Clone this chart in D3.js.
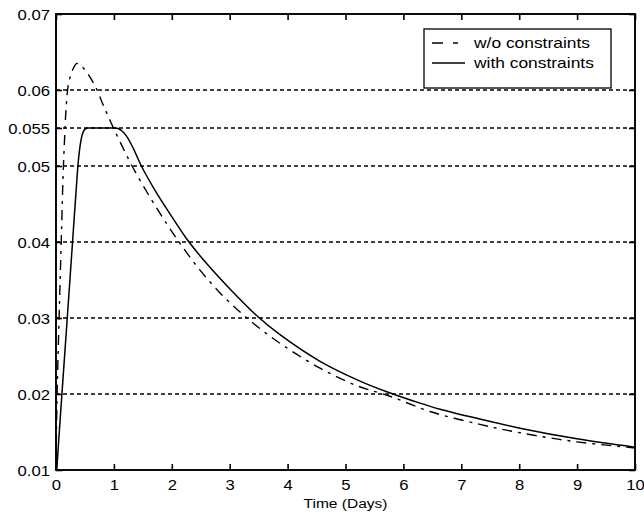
<!DOCTYPE html>
<html>
<head>
<meta charset="utf-8">
<script src="https://cdn.jsdelivr.net/npm/d3@7"></script>
<style>
  html, body { margin: 0; padding: 0; background: #fff; }
  svg { display: block; font-family: "Liberation Sans", Arial, sans-serif; }
</style>
</head>
<body>
<svg id="chart" width="644" height="522"></svg>
<script>
// Concentration over time, with and without constraints
const timeNoConstraint = [0, 0.017, 0.043, 0.069, 0.095, 0.121, 0.147, 0.173, 0.212, 0.254, 0.302, 0.358, 0.415, 0.472, 0.535, 0.596, 0.648, 0.703, 0.817, 0.945, 1.105, 1.307, 1.623, 1.912, 2.171, 2.487, 2.832, 3.178, 3.523, 3.921, 4.560, 5.193, 5.769, 6.459, 7.323, 8.014, 8.998, 10];
const valueNoConstraint = [0.0100, 0.0192, 0.0271, 0.0343, 0.0413, 0.0484, 0.0534, 0.0574, 0.0607, 0.0619, 0.0629, 0.0635, 0.0633, 0.0629, 0.0623, 0.0616, 0.0609, 0.0601, 0.0580, 0.0558, 0.0532, 0.0501, 0.0459, 0.0424, 0.0395, 0.0363, 0.0333, 0.0308, 0.0286, 0.0264, 0.0234, 0.0211, 0.0197, 0.0177, 0.0160, 0.0149, 0.0137, 0.0129];

const timeConstraint = [0.012, 0.094, 0.190, 0.285, 0.371, 0.397, 0.423, 0.449, 0.484, 0.527, 0.553, 0.80, 1.019, 1.071, 1.140, 1.221, 1.330, 1.468, 1.710, 1.969, 2.268, 2.487, 2.775, 3.109, 3.454, 3.869, 4.560, 5.250, 5.712, 6.287, 6.632, 7.323, 8.014, 8.998, 10];
const valueConstraint = [0.0100, 0.0191, 0.0295, 0.0399, 0.0493, 0.0515, 0.0530, 0.0540, 0.0547, 0.05497, 0.0550, 0.0550, 0.0550, 0.05493, 0.0546, 0.0539, 0.0524, 0.0501, 0.0468, 0.0437, 0.0403, 0.0382, 0.0357, 0.0330, 0.0304, 0.0278, 0.0243, 0.0217, 0.0203, 0.0188, 0.0180, 0.0167, 0.0155, 0.0141, 0.0130];

const xTicks = [0, 1, 2, 3, 4, 5, 6, 7, 8, 9, 10];
const yTicks = [0.01, 0.02, 0.03, 0.04, 0.05, 0.055, 0.06, 0.07];
const yTickLabels = ["0.01", "0.02", "0.03", "0.04", "0.05", "0.055", "0.06", "0.07"];
const gridValues = [0.02, 0.03, 0.04, 0.05, 0.055, 0.06];
const seriesNames = ["w/o constraints", "with constraints"];
const xLabel = "Time (Days)";

const plotLeft = 56, plotRight = 635, plotTop = 14, plotBottom = 470;
const svg = d3.select("#chart");

const x = d3.scaleLinear().domain([0, 10]).range([plotLeft, plotRight]);
const y = d3.scaleLinear().domain([0.01, 0.07]).range([plotBottom, plotTop]);

const stretch = 1.15; // glyphs are slightly wide

// horizontal dotted grid
svg.append("g").selectAll("line").data(gridValues).join("line")
  .attr("x1", plotLeft).attr("x2", plotRight)
  .attr("y1", d => y(d)).attr("y2", d => y(d))
  .attr("stroke", "#000").attr("stroke-width", 1.4)
  .attr("stroke-dasharray", "4,3");

// series
const lineGen = d3.line().x(d => x(d[0])).y(d => y(d[1])).curve(d3.curveCatmullRom.alpha(0.5));
const dataNo = timeNoConstraint.map((t, i) => [t, valueNoConstraint[i]]);
const dataCon = timeConstraint.map((t, i) => [t, valueConstraint[i]]);

svg.append("path").datum(dataNo)
  .attr("d", lineGen).attr("fill", "none").attr("stroke", "#000")
  .attr("stroke-width", 1.4).attr("stroke-dasharray", "10,6,3,6");

svg.append("path").datum(dataCon)
  .attr("d", lineGen).attr("fill", "none").attr("stroke", "#000")
  .attr("stroke-width", 1.5);

// axes with inward ticks on all four sides
const tickLen = 6;
const axB = svg.append("g").attr("transform", `translate(0,${plotBottom})`)
  .call(d3.axisBottom(x).tickValues(xTicks).tickSizeInner(-tickLen).tickSizeOuter(0).tickFormat(d3.format("d")));
const axT = svg.append("g").attr("transform", `translate(0,${plotTop})`)
  .call(d3.axisTop(x).tickValues(xTicks).tickSizeInner(-tickLen).tickSizeOuter(0).tickFormat(""));
const axL = svg.append("g").attr("transform", `translate(${plotLeft},0)`)
  .call(d3.axisLeft(y).tickValues(yTicks).tickSizeInner(-tickLen).tickSizeOuter(0).tickFormat((d, i) => yTickLabels[i]));
const axR = svg.append("g").attr("transform", `translate(${plotRight},0)`)
  .call(d3.axisRight(y).tickValues(yTicks).tickSizeInner(-tickLen).tickSizeOuter(0).tickFormat(""));

[axB, axT, axL, axR].forEach(a => {
  a.select(".domain").remove();
  a.selectAll(".tick line").attr("stroke", "#000").attr("stroke-width", 1.6);
});

axB.selectAll(".tick text")
  .attr("font-size", 14.5).attr("fill", "#000").attr("dy", null).attr("y", 0)
  .attr("transform", `translate(0,20) scale(${stretch},1)`);
axL.selectAll(".tick text")
  .attr("font-size", 14.5).attr("fill", "#000").attr("x", 0).attr("dy", "0.35em")
  .attr("transform", `translate(-6,0) scale(${stretch},1)`);

// frame
svg.append("rect")
  .attr("x", plotLeft).attr("y", plotTop).attr("width", plotRight - plotLeft).attr("height", plotBottom - plotTop)
  .attr("fill", "none").attr("stroke", "#000").attr("stroke-width", 1.9);

// x label
svg.append("text")
  .attr("text-anchor", "middle").attr("font-size", 13.5).attr("fill", "#000")
  .attr("transform", `translate(${(plotLeft + plotRight) / 2},508) scale(${stretch},1)`)
  .text(xLabel);

// legend
const lg = svg.append("g");
lg.append("rect").attr("x", 424).attr("y", 29).attr("width", 187).attr("height", 59)
  .attr("fill", "#fff").attr("stroke", "#000").attr("stroke-width", 1.3);
const legendRows = [
  { name: seriesNames[0], dash: "11,10,5,10", yy: 43 },
  { name: seriesNames[1], dash: null, yy: 63 }
];
legendRows.forEach(r => {
  lg.append("line").attr("x1", 432).attr("x2", 465).attr("y1", r.yy).attr("y2", r.yy)
    .attr("stroke", "#000").attr("stroke-width", 1.5)
    .attr("stroke-dasharray", r.dash);
  lg.append("text").attr("font-size", 15).attr("fill", "#000")
    .attr("transform", `translate(474,${r.yy + 5}) scale(1.16,1)`)
    .text(r.name);
});
</script>
</body>
</html>
